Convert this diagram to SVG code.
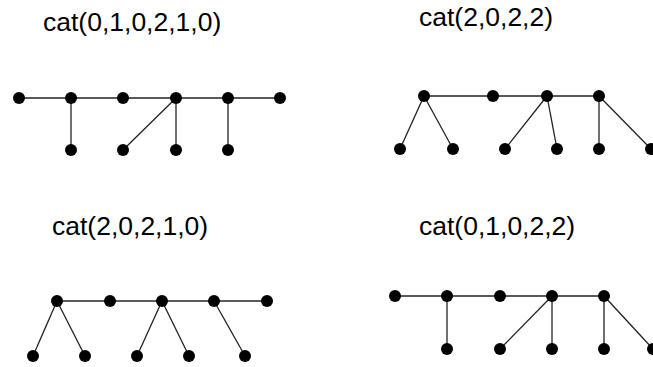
<svg xmlns="http://www.w3.org/2000/svg" width="653" height="367" viewBox="0 0 653 367">
<style>
text{font-family:"Liberation Sans",Arial,sans-serif;font-size:26.5px;fill:#000}
.e line{stroke:#222;stroke-width:1.3}
circle{fill:#000}
</style>
<rect width="653" height="367" fill="#fff"/>
<g id="labels">
<text x="43" y="31">cat(0,1,0,2,1,0)</text>
<text x="419" y="26">cat(2,0,2,2)</text>
<text x="52" y="235">cat(2,0,2,1,0)</text>
<text x="419" y="235">cat(0,1,0,2,2)</text>
</g>
<g id="connectors" class="e">
<line x1="19" y1="98" x2="280" y2="98"/>
<line x1="71" y1="98" x2="71" y2="150"/>
<line x1="176" y1="98" x2="123" y2="150"/>
<line x1="176" y1="98" x2="176" y2="150"/>
<line x1="228" y1="98" x2="228" y2="150"/>
<line x1="424" y1="96" x2="599" y2="96"/>
<line x1="424" y1="96" x2="400" y2="149"/>
<line x1="424" y1="96" x2="453" y2="149"/>
<line x1="547" y1="96" x2="505" y2="149"/>
<line x1="547" y1="96" x2="557" y2="149"/>
<line x1="599" y1="96" x2="599" y2="149"/>
<line x1="599" y1="96" x2="651" y2="149"/>
<line x1="57" y1="301" x2="267" y2="301"/>
<line x1="57" y1="301" x2="33" y2="356"/>
<line x1="57" y1="301" x2="85" y2="356"/>
<line x1="162" y1="301" x2="137" y2="356"/>
<line x1="162" y1="301" x2="189" y2="356"/>
<line x1="214" y1="301" x2="245" y2="356"/>
<line x1="395" y1="296" x2="604" y2="296"/>
<line x1="447" y1="296" x2="447" y2="349"/>
<line x1="552" y1="296" x2="500" y2="349"/>
<line x1="552" y1="296" x2="552" y2="349"/>
<line x1="604" y1="296" x2="604" y2="349"/>
<line x1="604" y1="296" x2="653" y2="349"/>
</g>
<g id="tree1">
<circle cx="19" cy="98" r="6"/><circle cx="71" cy="98" r="6"/><circle cx="123" cy="98" r="6"/>
<circle cx="176" cy="98" r="6"/><circle cx="228" cy="98" r="6"/><circle cx="280" cy="98" r="6"/>
<circle cx="71" cy="150" r="6"/><circle cx="123" cy="150" r="6"/><circle cx="176" cy="150" r="6"/><circle cx="228" cy="150" r="6"/>
</g>
<g id="tree2">
<circle cx="424" cy="96" r="6"/><circle cx="493" cy="96" r="6"/><circle cx="547" cy="96" r="6"/><circle cx="599" cy="96" r="6"/>
<circle cx="400" cy="149" r="6"/><circle cx="453" cy="149" r="6"/><circle cx="505" cy="149" r="6"/>
<circle cx="557" cy="149" r="6"/><circle cx="599" cy="149" r="6"/><circle cx="651" cy="149" r="6"/>
</g>
<g id="tree3">
<circle cx="57" cy="301" r="6"/><circle cx="110" cy="301" r="6"/><circle cx="162" cy="301" r="6"/>
<circle cx="214" cy="301" r="6"/><circle cx="267" cy="301" r="6"/>
<circle cx="33" cy="356" r="6"/><circle cx="85" cy="356" r="6"/><circle cx="137" cy="356" r="6"/>
<circle cx="189" cy="356" r="6"/><circle cx="245" cy="356" r="6"/>
</g>
<g id="tree4">
<circle cx="395" cy="296" r="6"/><circle cx="447" cy="296" r="6"/><circle cx="500" cy="296" r="6"/>
<circle cx="552" cy="296" r="6"/><circle cx="604" cy="296" r="6"/>
<circle cx="447" cy="349" r="6"/><circle cx="500" cy="349" r="6"/><circle cx="552" cy="349" r="6"/>
<circle cx="604" cy="349" r="6"/><circle cx="653" cy="349" r="6"/>
</g>
</svg>
